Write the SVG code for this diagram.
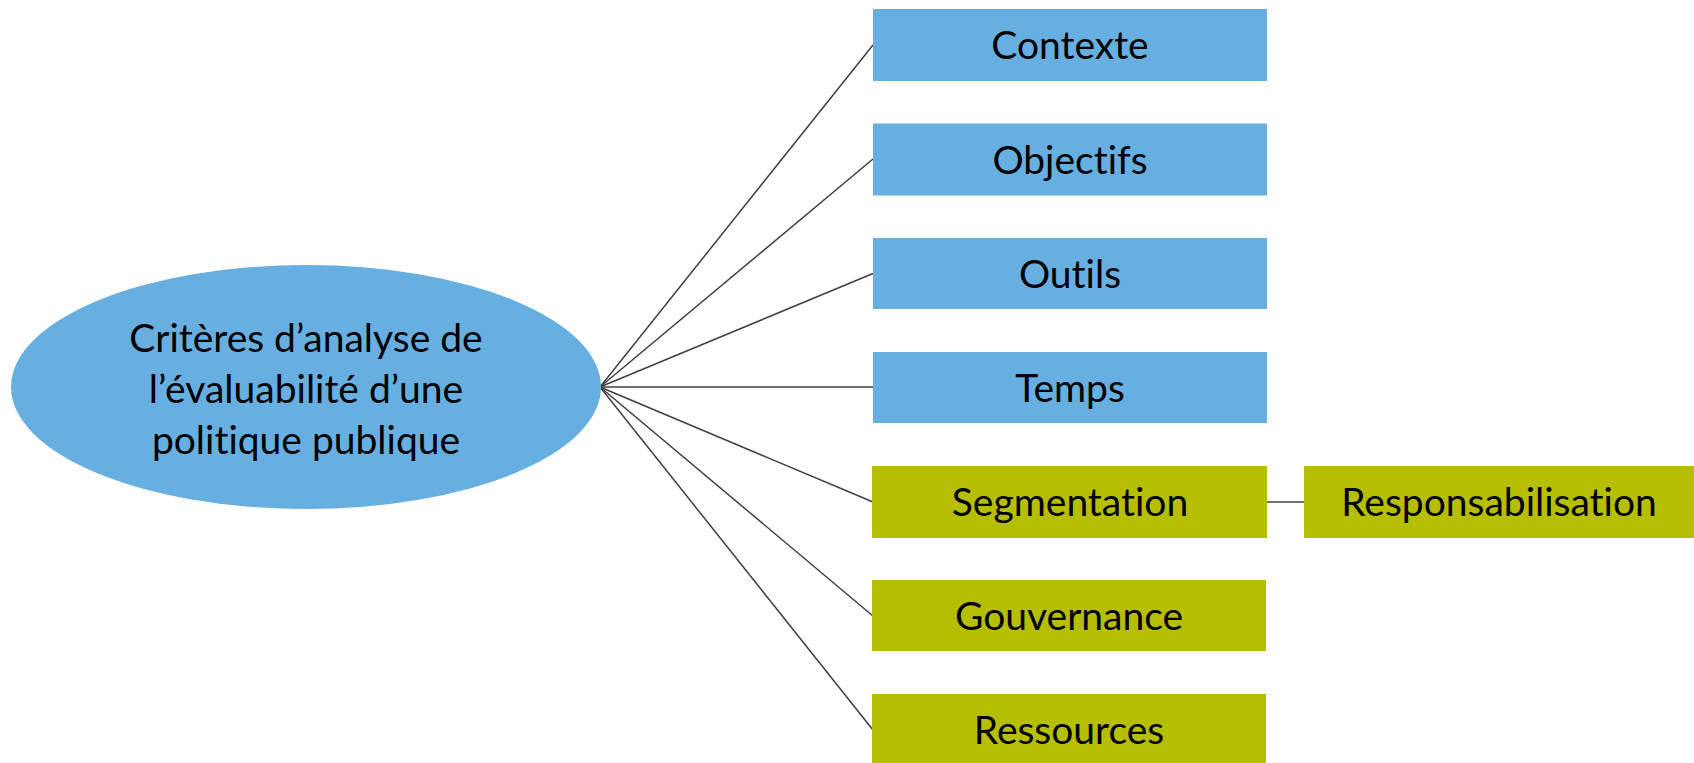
<svg xmlns="http://www.w3.org/2000/svg" width="1694" height="763" viewBox="0 0 1694 763">
<style>
.blue{fill:#66AFE0}
.green{fill:#B6BE00}
.lbl{font-family:Lato,"Liberation Sans",sans-serif;font-size:39px;fill:#000;text-anchor:middle;font-variant-ligatures:none;font-feature-settings:"liga" 0}
.c{stroke:#404040;stroke-width:1.5;fill:none}
</style>
<rect width="1694" height="763" fill="#fff"/>
<g id="connectors">
<line class="c" x1="600" y1="387" x2="873" y2="45"/>
<line class="c" x1="600" y1="387" x2="873" y2="159"/>
<line class="c" x1="600" y1="387" x2="873" y2="273.5"/>
<line class="c" x1="600" y1="387" x2="873" y2="387"/>
<line class="c" x1="600" y1="387" x2="873" y2="502"/>
<line class="c" x1="600" y1="387" x2="873" y2="616"/>
<line class="c" x1="600" y1="387" x2="873" y2="730"/>
<line class="c" x1="1267" y1="502" x2="1304" y2="502"/>
</g>
<g id="root">
<ellipse class="blue" cx="306" cy="387" rx="295" ry="122"/>
<text class="lbl" x="306" y="352">Critères d’analyse de</text>
<text class="lbl" x="306" y="403">l’évaluabilité d’une</text>
<text class="lbl" x="306" y="454">politique publique</text>
</g>
<g id="contexte"><rect class="blue" x="873" y="9" width="394" height="72"/><text class="lbl" x="1070" y="59">Contexte</text></g>
<g id="objectifs"><rect class="blue" x="873" y="123.5" width="394" height="72"/><text class="lbl" x="1070" y="173.5">Objectifs</text></g>
<g id="outils"><rect class="blue" x="873" y="238" width="394" height="71"/><text class="lbl" x="1070" y="287.5">Outils</text></g>
<g id="temps"><rect class="blue" x="873" y="352" width="394" height="71"/><text class="lbl" x="1070" y="401.5">Temps</text></g>
<g id="segmentation"><rect class="green" x="872" y="466" width="395" height="72"/><text class="lbl" x="1070" y="516">Segmentation</text></g>
<g id="responsabilisation"><rect class="green" x="1304" y="466" width="390" height="72"/><text class="lbl" x="1499" y="516">Responsabilisation</text></g>
<g id="gouvernance"><rect class="green" x="872" y="580" width="394" height="71"/><text class="lbl" x="1069" y="629.5">Gouvernance</text></g>
<g id="ressources"><rect class="green" x="872" y="694" width="394" height="69"/><text class="lbl" x="1069" y="744">Ressources</text></g>
</svg>
